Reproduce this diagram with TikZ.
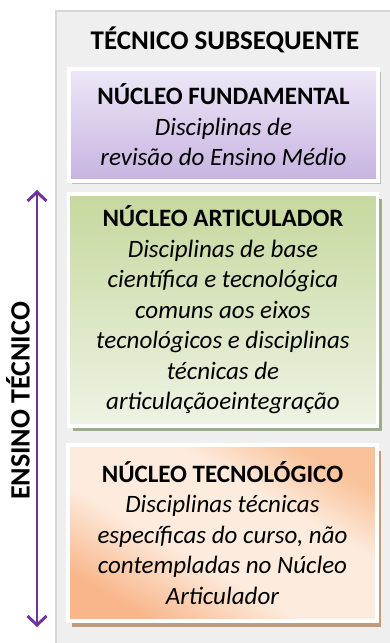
\documentclass[tikz,border=0pt]{standalone}
\usepackage{fontspec}
\setmainfont{Carlito}
\usepackage{xcolor}
\usepackage{tikz}
\usetikzlibrary{arrows.meta,shadows,positioning}

\definecolor{panelgray}{HTML}{EFEFEF}
\definecolor{panelline}{HTML}{D6D6D6}
\definecolor{ensinoviolet}{HTML}{7030A0}
\definecolor{fundtop}{HTML}{EEE7F7}
\definecolor{fundbot}{HTML}{C6B3E0}
\definecolor{articdark}{HTML}{C6D89E}
\definecolor{articlight}{HTML}{EEF3E4}
\definecolor{tecdark}{HTML}{F8B68A}
\definecolor{teclight}{HTML}{FDEBDD}
\definecolor{tectop}{HTML}{F9C29A}
\definecolor{fundshadow}{HTML}{BDBDBD}
\definecolor{articshadow}{HTML}{9EAB8C}
\definecolor{tecshadow}{HTML}{C49A78}

\pgfdeclareverticalshading{tecshade}{100bp}{color(0bp)=(tecdark); color(25bp)=(tecdark); color(42bp)=(teclight); color(62bp)=(teclight); color(75bp)=(tectop); color(100bp)=(tectop)}

\begin{document}
\begin{tikzpicture}[
  x=1pt, y=-1pt,
  nucleo/.style={rectangle, draw=white, line width=3.5pt, minimum width=309pt, inner sep=0pt, align=center, font=\fontsize{25}{30.5}\selectfont},
  arrow/.style={{Straight Barb[length=9pt,width=19pt]}-{Straight Barb[length=9pt,width=19pt]}, line width=2.9pt, draw=ensinoviolet}
]
  \useasboundingbox (0,0) rectangle (389,643);
  \fill[white] (0,0) rectangle (389,643);
  \filldraw[fill=panelgray, draw=panelline, line width=1.2pt] (56,11) rectangle (392,646);

  \node[anchor=base, font=\fontsize{27}{30}\selectfont\bfseries] (title) at (225,49) {TÉCNICO SUBSEQUENTE};

  \node[nucleo, minimum height=112pt, top color=fundtop, bottom color=fundbot,
        drop shadow={shadow xshift=3pt, shadow yshift=-3pt, fill=fundshadow, opacity=1}] (fund) at (223.5,125)
    {{\bfseries NÚCLEO FUNDAMENTAL}\\\textit{Disciplinas de}\\\textit{revisão do Ensino Médio}};

  \node[nucleo, minimum height=232pt, shading angle=-35, top color=articdark, bottom color=articlight,
        drop shadow={shadow xshift=4pt, shadow yshift=-5pt, fill=articshadow, opacity=1}] (artic) at (223,310)
    {{\bfseries NÚCLEO ARTICULADOR}\\\textit{Disciplinas de base}\\\textit{científica e tecnológica}\\\textit{comuns aos eixos}\\\textit{tecnológicos e disciplinas}\\\textit{técnicas de}\\\textit{articulaçãoeintegração}};

  \node[nucleo, minimum height=176pt, shading=tecshade, shading angle=-30,
        drop shadow={shadow xshift=4pt, shadow yshift=-6pt, fill=tecshadow, opacity=1}] (tec) at (222.5,533)
    {{\bfseries NÚCLEO TECNOLÓGICO}\\\textit{Disciplinas técnicas}\\\textit{específicas do curso, não}\\\textit{contempladas no Núcleo}\\\textit{Articulador}};

  % ensino tecnico
  \coordinate (etop) at (37,190);
  \coordinate (ebot) at (37,627);
  \draw[arrow] (etop) -- (ebot);
  \node[rotate=90, font=\fontsize{28}{30}\selectfont\bfseries] (ensino) at (18,401) {ENSINO TÉCNICO};
\end{tikzpicture}
\end{document}
